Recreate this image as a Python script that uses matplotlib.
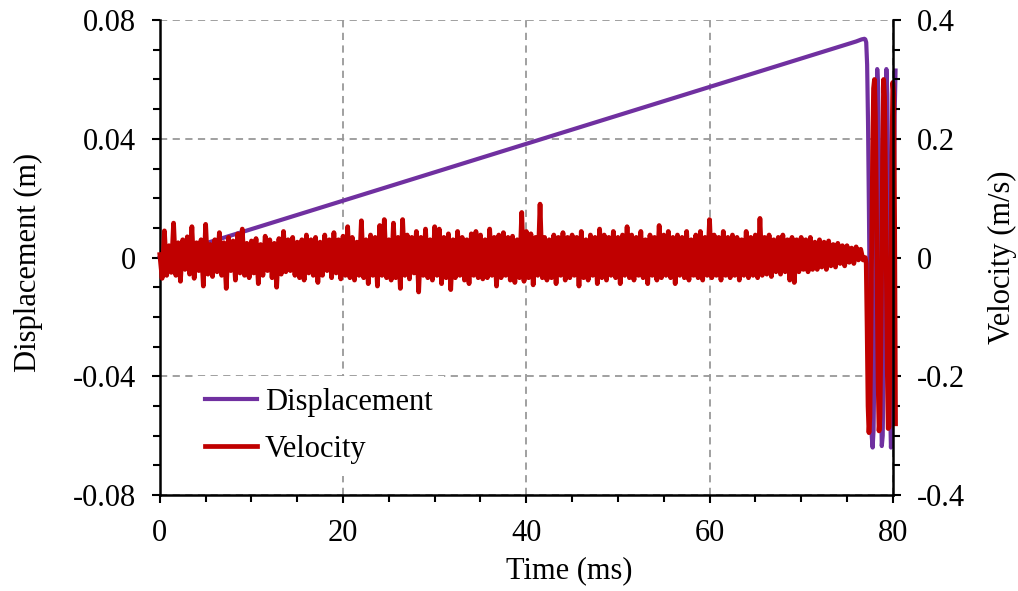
import numpy as np
import matplotlib
matplotlib.use('Agg')
import matplotlib.pyplot as plt
from matplotlib.ticker import MultipleLocator

plt.rcParams['font.family'] = ['Liberation Serif', 'DejaVu Serif']
plt.rcParams['font.size'] = 22
plt.rcParams['path.simplify'] = False

# velocity noise before release, one sample every 0.25 ms (m/s)
vel_noise = [
    0.005, -0.035, 0.045, -0.030, 0.020, -0.025, 0.058, -0.030, 0.025, -0.040, 0.030, -0.020, 0.035, -0.028, 0.052, -0.035, 0.025, -0.022, 0.030, -0.048,
    0.056, -0.028, 0.022, -0.032, 0.030, -0.024, 0.042, -0.030, 0.025, -0.052, 0.034, -0.022, 0.028, -0.038, 0.040, -0.026, 0.048, -0.030, 0.024, -0.034,
    0.028, -0.026, 0.032, -0.044, 0.022, -0.030, 0.036, -0.022, 0.030, -0.034, 0.024, -0.050, 0.032, -0.028, 0.044, -0.024, 0.030, -0.022, 0.034, -0.030,
    0.026, -0.034, 0.030, -0.038, 0.038, -0.026, 0.030, -0.030, 0.034, -0.042, 0.026, -0.030, 0.038, -0.022, 0.030, -0.034, 0.042, -0.026, 0.030, -0.036,
    0.036, -0.030, 0.052, -0.034, 0.034, -0.038, 0.026, -0.030, 0.062, -0.034, 0.030, -0.044, 0.038, -0.030, 0.034, -0.048, 0.054, -0.030, 0.064, -0.034,
    0.030, -0.038, 0.058, -0.034, 0.034, -0.052, 0.064, -0.030, 0.038, -0.036, 0.034, -0.026, 0.044, -0.058, 0.034, -0.030, 0.048, -0.034, 0.030, -0.038,
    0.052, -0.030, 0.048, -0.044, 0.034, -0.034, 0.040, -0.054, 0.030, -0.034, 0.044, -0.030, 0.034, -0.038, 0.030, -0.044, 0.040, -0.030, 0.044, -0.034,
    0.038, -0.036, 0.030, -0.034, 0.048, -0.030, 0.034, -0.048, 0.038, -0.034, 0.042, -0.030, 0.034, -0.038, 0.036, -0.042, 0.030, -0.034, 0.076, -0.040,
    0.044, -0.034, 0.040, -0.046, 0.034, -0.030, 0.090, -0.034, 0.034, -0.038, 0.030, -0.034, 0.038, -0.044, 0.034, -0.030, 0.042, -0.038, 0.034, -0.034,
    0.038, -0.030, 0.034, -0.048, 0.044, -0.034, 0.030, -0.038, 0.038, -0.030, 0.034, -0.044, 0.048, -0.034, 0.038, -0.038, 0.034, -0.030, 0.044, -0.034,
    0.034, -0.044, 0.038, -0.030, 0.052, -0.034, 0.038, -0.038, 0.034, -0.030, 0.044, -0.034, 0.030, -0.044, 0.038, -0.030, 0.034, -0.038, 0.054, -0.034,
    0.038, -0.030, 0.044, -0.034, 0.034, -0.044, 0.038, -0.030, 0.034, -0.034, 0.044, -0.038, 0.030, -0.030, 0.038, -0.034, 0.044, -0.038, 0.034, -0.030,
    0.064, -0.034, 0.038, -0.030, 0.034, -0.038, 0.044, -0.030, 0.034, -0.034, 0.038, -0.030, 0.034, -0.038, 0.030, -0.030, 0.044, -0.034, 0.034, -0.030,
    0.038, -0.034, 0.066, -0.030, 0.034, -0.028, 0.038, -0.032, 0.030, -0.024, 0.034, -0.028, 0.038, -0.024, 0.030, -0.038, 0.034, -0.042, 0.030, -0.024,
    0.034, -0.020, 0.030, -0.024, 0.034, -0.020, 0.026, -0.020, 0.030, -0.016, 0.026, -0.020, 0.028, -0.014, 0.022, -0.016, 0.024, -0.010, 0.020, -0.014,
    0.020, -0.008, 0.016, -0.010, 0.018, -0.004, 0.014, -0.004,
]

# after release (77.0 ms onwards), one sample every 0.1 ms
vel_tail = [
    0.000, -0.010, -0.120, -0.250, -0.295, -0.270, -0.150, 0.020, 0.180, 0.285,
    0.300, 0.240, 0.110, -0.060, -0.210, -0.292, -0.270, -0.150, 0.020, 0.190,
    0.300, 0.270, 0.140, -0.030, -0.190, -0.288, -0.285, -0.170, 0.000, 0.170,
    0.295, 0.275, 0.060, -0.280,
]
disp_tail = [
    0.0735, 0.0725, 0.065, 0.045, 0.015, -0.020, -0.045, -0.060, -0.064, -0.058,
    -0.035, 0.000, 0.040, 0.0635, 0.057, 0.030, -0.010, -0.045, -0.0635, -0.060,
    -0.035, 0.005, 0.045, 0.0635, 0.055, 0.025, -0.015, -0.050, -0.064, -0.058,
    -0.030, 0.010, 0.048, 0.063,
]

# displacement ramp before release
disp_ramp_t = [0.0, 76.0, 76.6, 76.9]
disp_ramp = [0.0, 0.0728, 0.0735, 0.0737]

t_noise = np.arange(len(vel_noise)) * 0.25
t_tail = 77.0 + 0.1 * np.arange(len(vel_tail))

time_v = np.concatenate([t_noise, t_tail])
vel = np.concatenate([vel_noise, vel_tail])
time_d = np.concatenate([disp_ramp_t, t_tail])
disp = np.concatenate([disp_ramp, disp_tail])

purple = '#7030A0'
red = '#C00000'

fig = plt.figure(figsize=(10.18, 5.91), dpi=100)
ax1 = fig.add_axes([0.157, 0.1624, 0.72, 0.8036])
ax2 = ax1.twinx()

l1, = ax1.plot(time_d, disp, color=purple, lw=3, label='Displacement', clip_on=False)
l2, = ax2.plot(time_v, vel, color=red, lw=3.4, label='Velocity', clip_on=False)

ax1.set_xlim(0, 80)
ax1.set_ylim(-0.08, 0.08)
ax2.set_ylim(-0.4, 0.4)

ax1.xaxis.set_major_locator(MultipleLocator(20))
ax1.xaxis.set_minor_locator(MultipleLocator(5))
ax1.yaxis.set_major_locator(MultipleLocator(0.04))
ax1.yaxis.set_minor_locator(MultipleLocator(0.01))
ax2.yaxis.set_major_locator(MultipleLocator(0.2))
ax2.yaxis.set_minor_locator(MultipleLocator(0.05))

ax1.set_yticks([-0.08, -0.04, 0, 0.04, 0.08])
ax1.set_yticklabels(['-0.08', '-0.04', '0', '0.04', '0.08'])
ax2.set_yticks([-0.4, -0.2, 0, 0.2, 0.4])
ax2.set_yticklabels(['-0.4', '-0.2', '0', '0.2', '0.4'])

for ax in (ax1, ax2):
    ax.tick_params(which='major', direction='out', length=6, width=1.5, pad=11)
    ax.tick_params(which='minor', direction='out', length=5, width=1.5)
    for s in ax.spines.values():
        s.set_linewidth(1.8)
    ax.spines['top'].set_visible(False)

ax1.spines['right'].set_visible(False)
ax2.spines['left'].set_visible(False)
ax2.spines['bottom'].set_visible(False)

ax1.grid(True, which='major', color='#999999', linestyle=(0, (4, 3)), lw=1.3)

ax1.set_xlabel('Time (ms)')
ax1.xaxis.set_label_coords(0.559, -0.128)
ax1.set_ylabel('Displacement (m)')
ax1.yaxis.set_label_coords(-0.16, 0.49)
ax2.set_ylabel('Velocity (m/s)')
ax2.yaxis.set_label_coords(1.13, 0.5)

leg = ax2.legend([l1, l2], ['Displacement', 'Velocity'], loc='lower left',
                 bbox_to_anchor=(0.045, 0.040), borderaxespad=0, frameon=True,
                 fancybox=False, handlelength=1.7, handletextpad=0.25,
                 labelspacing=0.58, borderpad=0.4)
leg.get_frame().set_facecolor('white')
leg.get_frame().set_edgecolor('none')
leg.get_frame().set_alpha(1)

fig.savefig('out.png', dpi=100)
